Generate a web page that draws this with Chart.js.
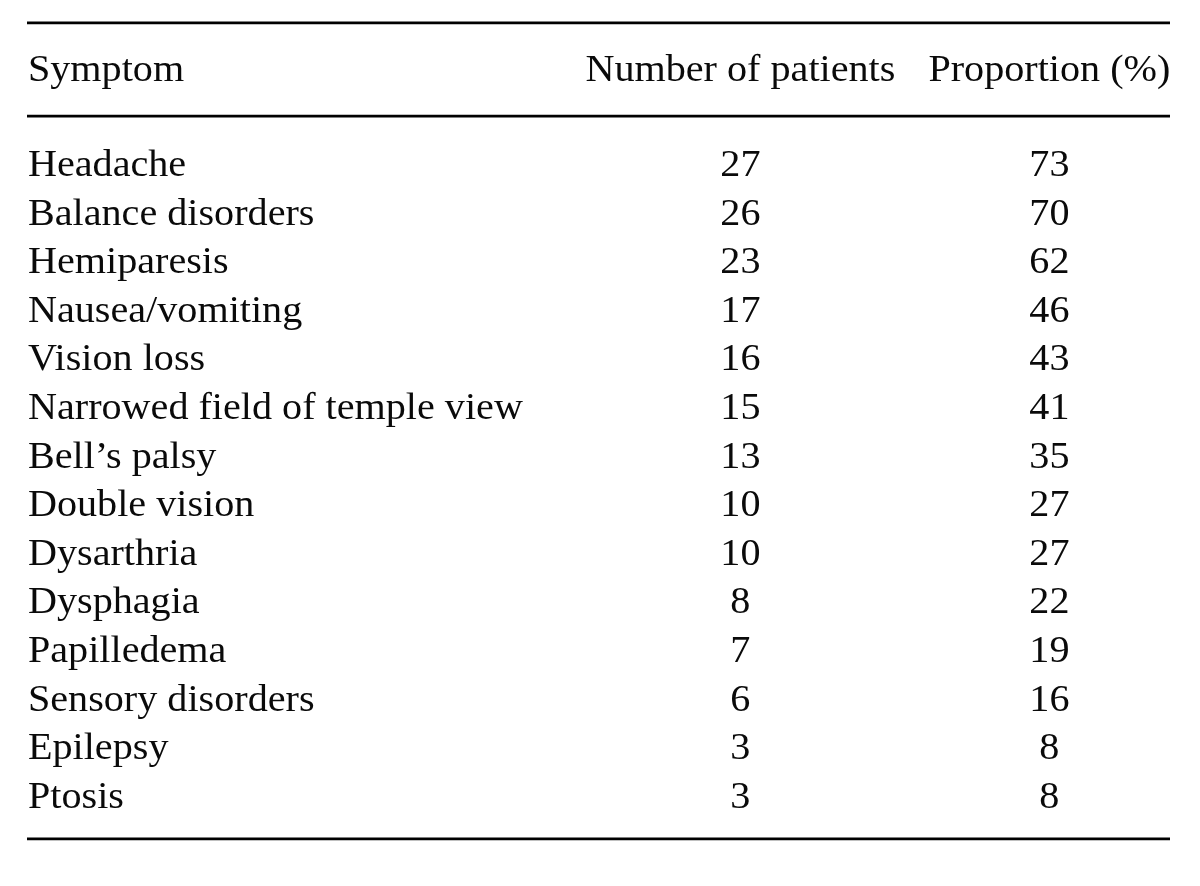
<!DOCTYPE html>
<html>
<head>
<meta charset="utf-8">
<script src="https://cdn.jsdelivr.net/npm/chart.js@4.4.1/dist/chart.umd.min.js"></script>
<style>
  html, body { margin: 0; padding: 0; background: #fff; }
  #wrap { width: 1200px; height: 886px; position: relative; }
</style>
</head>
<body>
<div id="wrap"><canvas id="symptomTable"></canvas></div>
<script>
/* table contents */
const headers = ["Symptom", "Number of patients", "Proportion (%)"];
const symptoms = [
    "Headache", "Balance disorders", "Hemiparesis", "Nausea/vomiting", "Vision loss",
    "Narrowed field of temple view", "Bell\u2019s palsy", "Double vision", "Dysarthria",
    "Dysphagia", "Papilledema", "Sensory disorders", "Epilepsy", "Ptosis"
];
const patients = [27, 26, 23, 17, 16, 15, 13, 10, 10, 8, 7, 6, 3, 3];
const proportions = [73, 70, 62, 46, 43, 41, 35, 27, 27, 22, 19, 16, 8, 8];

/* layout: x in percent of width, y in row units (row i baseline = i) */
const colX = [2.33, 61.7, 87.45];
const colAlign = ["left", "center", "center"];
const headerRow = -1.96;
const rules = [-3.15, -1.23, 13.64];
const ruleFrom = 2.25, ruleTo = 97.5;
const FONT = "37px 'Liberation Serif', 'Times New Roman', serif";
const STRETCH = 1.085; // the print face is a little wider than Liberation Serif

function cellData(col, values, align) {
    return values.map((v, i) => ({ x: col, y: i, text: String(v), align: align }));
}

const datasets = [
    { label: "header", data: headers.map((h, c) => ({ x: colX[c], y: headerRow, text: h, align: colAlign[c] })) },
    { label: "symptom", data: cellData(colX[0], symptoms, colAlign[0]) },
    { label: "patients", data: cellData(colX[1], patients, colAlign[1]) },
    { label: "proportion", data: cellData(colX[2], proportions, colAlign[2]) },
].map(ds => ({ ...ds, pointRadius: 0, pointHoverRadius: 0, showLine: false }));

/* draws the horizontal rules from the y scale */
const rulesPlugin = {
    id: "rules",
    afterDatasetsDraw(chart) {
        const ctx = chart.ctx;
        const xs = chart.scales.x, ys = chart.scales.y;
        ctx.save();
        ctx.strokeStyle = "#000";
        ctx.lineWidth = 2.6;
        rules.forEach(r => {
            const y = ys.getPixelForValue(r);
            ctx.beginPath();
            ctx.moveTo(xs.getPixelForValue(ruleFrom), y);
            ctx.lineTo(xs.getPixelForValue(ruleTo), y);
            ctx.stroke();
        });
        ctx.restore();
    }
};

/* writes each cell's text at its point */
const cellTextPlugin = {
    id: "cellText",
    afterDatasetsDraw(chart) {
        const ctx = chart.ctx;
        chart.data.datasets.forEach((ds, i) => {
            const meta = chart.getDatasetMeta(i);
            meta.data.forEach((pt, j) => {
                const d = ds.data[j];
                ctx.save();
                ctx.translate(pt.x, pt.y);
                ctx.scale(STRETCH, 1);
                ctx.font = FONT;
                ctx.fillStyle = "#0a0a0a";
                ctx.textBaseline = "alphabetic";
                ctx.textAlign = d.align;
                ctx.fillText(d.text, 0, 0);
                ctx.restore();
            });
        });
    }
};

const ctxTable = document.getElementById("symptomTable").getContext("2d");
const tableChart = new Chart(ctxTable, {
    type: "scatter",
    data: { datasets: datasets },
    options: {
        responsive: true,
        maintainAspectRatio: false,
        animation: false,
        layout: { padding: 0 },
        plugins: { legend: { display: false }, tooltip: { enabled: false } },
        events: [],
        scales: {
            x: { type: "linear", min: 0, max: 100, display: false },
            y: { type: "linear", reverse: true, min: -3.62, max: 14.61, display: false }
        }
    },
    plugins: [rulesPlugin, cellTextPlugin]
});
</script>
</body>
</html>
